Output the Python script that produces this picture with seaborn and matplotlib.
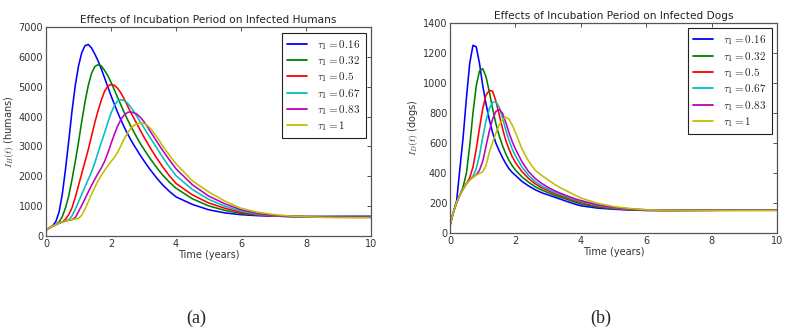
import numpy as np
import pandas as pd
import matplotlib
matplotlib.use("Agg")
import matplotlib.pyplot as plt
import seaborn as sns

# values
taus = ["0.16", "0.32", "0.5", "0.67", "0.83", "1"]
colors = ["#0000ff", "#008000", "#ff0000", "#00bfbf", "#bf00bf", "#bfbf00"]

# humans panel
t_h = [0, 0.1, 0.2, 0.3, 0.4, 0.5, 0.6, 0.7, 0.8, 0.9, 1.0, 1.1, 1.2, 1.3, 1.4, 1.5, 1.6, 1.7,
       1.8, 1.9, 2.0, 2.1, 2.2, 2.3, 2.4, 2.5, 2.6, 2.7, 2.8, 2.9, 3.0, 3.1, 3.2, 3.3, 3.4, 3.5,
       3.6, 3.8, 4.0, 4.5, 5.0, 5.5, 6.0, 6.5, 7.0, 7.5, 8.0, 8.5, 9.0, 9.5, 10.0]
h_016 = [200, 270, 340, 480, 800, 1400, 2250, 3200, 4200, 5050, 5700, 6150, 6380, 6420, 6300, 6100,
         5870, 5600, 5300, 5000, 4700, 4420, 4150, 3900, 3660, 3440, 3240, 3050, 2880, 2700, 2540,
         2380, 2230, 2090, 1950, 1820,
         1700, 1490, 1310, 1060, 880, 775, 715, 682, 666, 658, 655, 655, 658, 660, 660]
h_032 = [200, 270, 330, 380, 470, 650, 950, 1350, 1900, 2500, 3150, 3850, 4500, 5050, 5450, 5680,
         5740, 5700, 5550, 5370, 5150, 4900, 4650, 4400, 4150, 3920, 3700, 3490, 3290, 3100, 2930,
         2760, 2600, 2450, 2300, 2160,
         2030, 1800, 1600, 1250, 1010, 860, 755, 700, 670, 655, 650, 650, 650, 650, 650]
h_05 = [200, 270, 330, 380, 430, 470, 560, 720, 950, 1300, 1700, 2100, 2500, 2900, 3350, 3800,
        4200, 4550, 4850, 5020, 5080, 5050, 4950, 4800, 4600, 4380, 4150, 3950, 3750, 3540, 3340,
        3150, 2965, 2790, 2620, 2460,
        2300, 2010, 1760, 1380, 1110, 930, 795, 712, 670, 652, 645, 645, 645, 645, 645]
h_067 = [200, 270, 330, 380, 430, 470, 500, 540, 680, 900, 1150, 1400, 1650, 1900, 2150, 2450,
         2800, 3130, 3450, 3800, 4120, 4370, 4520, 4570, 4540, 4460, 4330, 4170, 4000, 3820, 3650,
         3470, 3300, 3130, 2960, 2790,
         2620, 2300, 2020, 1560, 1230, 1000, 835, 732, 680, 655, 645, 640, 640, 640, 640]
h_083 = [200, 270, 330, 380, 430, 470, 500, 530, 550, 620, 820, 1030, 1250, 1480, 1700, 1900,
         2100, 2280, 2500, 2780, 3100, 3400, 3680, 3900, 4050, 4140, 4160, 4130, 4080, 3980, 3850,
         3690, 3520, 3350, 3180, 3010,
         2850, 2540, 2250, 1720, 1340, 1080, 880, 760, 690, 660, 645, 635, 630, 630, 630]
h_1 = [200, 270, 330, 380, 430, 470, 500, 530, 550, 570, 590, 700, 900, 1150, 1400, 1630,
       1850, 2030, 2200, 2350, 2500, 2630, 2800, 3020, 3250, 3440, 3600, 3700, 3760, 3790, 3780,
       3720, 3620, 3480, 3330, 3170,
       3000, 2700, 2420, 1850, 1480, 1170, 930, 800, 720, 670, 645, 625, 615, 610, 610]

# dogs panel
t_d = [0, 0.1, 0.2, 0.3, 0.4, 0.5, 0.6, 0.7, 0.8, 0.9, 1.0, 1.1, 1.2, 1.3, 1.4, 1.5, 1.6, 1.7,
       1.8, 1.9, 2.0, 2.2, 2.4, 2.6, 2.8, 3.0, 3.2, 3.4, 3.6, 3.8, 4.0, 4.5, 5.0, 5.5, 6.0,
       6.5, 7.0, 7.5, 8.0, 8.5, 9.0, 9.5, 10.0]
d_016 = [55, 140, 215, 430, 640, 900, 1130, 1250, 1240, 1130, 980, 860, 755, 670, 600, 550, 505, 465,
         430, 405, 385, 345, 315, 290, 270, 255, 240, 225, 210, 195, 183, 168, 160, 155, 152,
         152, 153, 154, 155, 155, 156, 156, 156]
d_032 = [55, 140, 205, 255, 310, 400, 580, 800, 980, 1080, 1095, 1040, 940, 830, 730, 650, 585, 530,
         485, 450, 420, 375, 340, 310, 288, 270, 252, 238, 224, 208, 195, 175, 163, 157, 153,
         152, 152, 153, 154, 154, 155, 155, 155]
d_05 = [55, 140, 205, 255, 295, 330, 370, 440, 560, 700, 830, 920, 950, 945, 880, 790, 700, 620,
        560, 510, 470, 410, 365, 330, 303, 283, 264, 248, 233, 218, 205, 180, 166, 158, 154,
        152, 152, 153, 153, 154, 154, 155, 155]
d_067 = [55, 140, 205, 255, 295, 330, 355, 380, 430, 520, 640, 750, 830, 870, 875, 840, 770, 690,
         620, 560, 515, 440, 385, 345, 315, 293, 273, 256, 240, 225, 212, 185, 169, 160, 155,
         153, 152, 152, 153, 153, 154, 154, 154]
d_083 = [55, 140, 205, 255, 295, 330, 355, 372, 390, 420, 480, 580, 680, 760, 810, 824, 800, 740,
         670, 610, 560, 475, 410, 365, 332, 305, 283, 264, 247, 231, 218, 190, 172, 162, 156,
         153, 152, 152, 152, 153, 153, 153, 153]
d_1 = [55, 140, 205, 255, 295, 330, 355, 372, 387, 398, 410, 450, 540, 605, 665, 720, 755, 771,
       760, 720, 670, 560, 480, 420, 385, 355, 325, 300, 278, 256, 235, 200, 178, 165, 157,
       153, 152, 152, 152, 152, 152, 152, 152]

humans = [h_016, h_032, h_05, h_067, h_083, h_1]
dogs = [d_016, d_032, d_05, d_067, d_083, d_1]
labels = [r"$\tau_1 = " + t + "$" for t in taus]


def to_frame(t, series):
    rows = []
    for lab, vals in zip(labels, series):
        for tt, v in zip(t, vals):
            rows.append((tt, v, lab))
    return pd.DataFrame(rows, columns=["t", "v", "tau"])


sns.set_style("white")
plt.rcParams["font.family"] = ["DejaVu Sans"]
plt.rcParams["mathtext.fontset"] = "cm"
plt.rcParams["xtick.direction"] = "in"
plt.rcParams["ytick.direction"] = "in"

fig = plt.figure(figsize=(7.91, 3.30), dpi=100)
ax1 = fig.add_axes([0.0582, 0.2848, 0.411, 0.633])
ax2 = fig.add_axes([0.569, 0.293, 0.4134, 0.638])

panels = [
    (ax1, to_frame(t_h, humans), 7000, 1000, r"$I_H(t)$ (humans)",
     "Effects of Incubation Period on Infected Humans"),
    (ax2, to_frame(t_d, dogs), 1400, 200, r"$I_D(t)$ (dogs)",
     "Effects of Incubation Period on Infected Dogs"),
]

pal = dict(zip(labels, colors))

for ax, df, ymax, ystep, ylab, title in panels:
    sns.lineplot(data=df, x="t", y="v", hue="tau", palette=pal, ax=ax,
                 linewidth=1.15, legend=True)
    ax.set_xlim(0, 10)
    ax.set_ylim(0, ymax)
    ax.set_xticks(np.arange(0, 11, 2))
    ax.set_yticks(np.arange(0, ymax + 1, ystep))
    ax.tick_params(labelsize=7, colors="#333333", length=3, width=0.6,
                   top=True, right=True, pad=2)
    for s in ax.spines.values():
        s.set_color("#555555")
        s.set_linewidth(0.9)
    ax.set_xlabel("Time (years)", fontsize=7, labelpad=1, color="#333333")
    ax.set_ylabel(ylab, fontsize=7, labelpad=2, color="#333333")
    ax.set_title(title, fontsize=7.6, pad=3, color="#222222")
    leg = ax.legend(loc="upper right", fontsize=8, handlelength=1.8,
                    handletextpad=0.9, borderpad=0.45, labelspacing=0.22,
                    fancybox=False, framealpha=1, borderaxespad=0.5)
    leg.get_frame().set_edgecolor("#222222")
    leg.get_frame().set_linewidth(0.8)
    for line in leg.get_lines():
        line.set_linewidth(1.3)

fig.text(0.248, 0.036, "(a)", fontsize=13, family="Liberation Serif",
         ha="center", va="center")
fig.text(0.759, 0.036, "(b)", fontsize=13, family="Liberation Serif",
         ha="center", va="center")

fig.savefig("out.png", dpi=100)
